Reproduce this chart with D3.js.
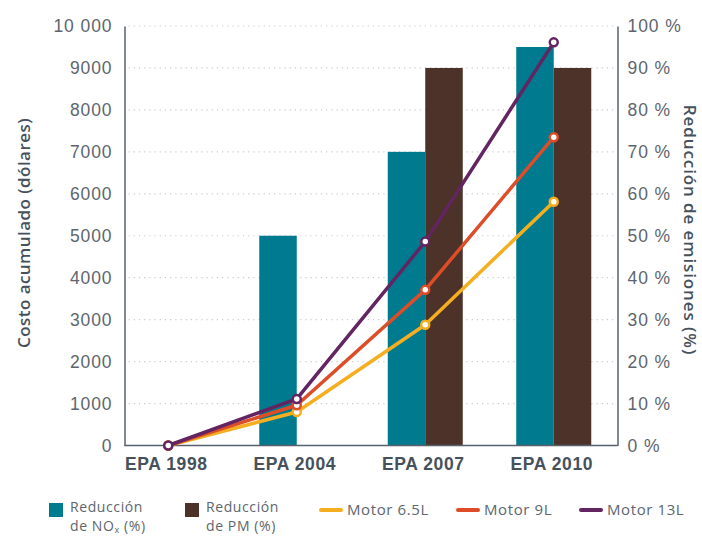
<!DOCTYPE html>
<html>
<head>
<meta charset="utf-8">
<script src="https://cdn.jsdelivr.net/npm/d3@7"></script>
<style>
  html, body { margin: 0; padding: 0; background: #fff; }
  svg { display: block; font-family: "Open Sans", sans-serif; }
</style>
</head>
<body>
<svg id="chart" width="702" height="536"></svg>
<script>
const categories = ["EPA 1998", "EPA 2004", "EPA 2007", "EPA 2010"];
const noxReduction = [null, 50, 70, 95];   // % (right axis)
const pmReduction  = [null, null, 90, 90]; // % (right axis)
const motor65 = [0, 800, 2880, 5810];      // dólares (left axis)
const motor9  = [0, 960, 3710, 7350];
const motor13 = [0, 1110, 4860, 9610];
const leftTicks  = [0,1000,2000,3000,4000,5000,6000,7000,8000,9000,10000];
const leftTickLabels = ["0","1000","2000","3000","4000","5000","6000","7000","8000","9000","10 000"];
const rightTicks = [0,10,20,30,40,50,60,70,80,90,100];
const rightTickLabels = rightTicks.map(d => d + " %");

const colors = { nox: "#007a8f", pm: "#4d3229", m65: "#f4ae1f", m9: "#dd4d27", m13: "#632561" };

const svg = d3.select("#chart");
const plot = { left: 124.5, right: 617.5, top: 26, bottom: 445.5 };

const x = d3.scaleBand().domain(categories).range([104, 618]).paddingInner(0).paddingOuter(0);
const yL = d3.scaleLinear().domain([0, 10000]).range([plot.bottom, plot.top]);
const yR = d3.scaleLinear().domain([0, 100]).range([plot.bottom, plot.top]);
const cx = c => x(c) + x.bandwidth() / 2;
const barW = 37.5;

// gridlines
svg.append("g").selectAll("line").data(leftTicks.slice(1)).join("line")
  .attr("x1", plot.left + 4).attr("x2", plot.right - 4)
  .attr("y1", d => yL(d)).attr("y2", d => yL(d))
  .attr("stroke", "#c8cbcd").attr("stroke-width", 1.2).attr("stroke-dasharray", "1.2,4");

// bars
const bars = svg.append("g");
bars.selectAll("rect.nox").data(categories.map((c, i) => ({c, v: noxReduction[i]})).filter(d => d.v != null))
  .join("rect").attr("class", "nox")
  .attr("x", d => cx(d.c) - barW).attr("width", barW)
  .attr("y", d => yR(d.v)).attr("height", d => yR(0) - yR(d.v))
  .attr("fill", colors.nox);
bars.selectAll("rect.pm").data(categories.map((c, i) => ({c, v: pmReduction[i]})).filter(d => d.v != null))
  .join("rect").attr("class", "pm")
  .attr("x", d => cx(d.c)).attr("width", barW)
  .attr("y", d => yR(d.v)).attr("height", d => yR(0) - yR(d.v))
  .attr("fill", colors.pm);

// axes
const axisColor = "#56616b";
const leftAxis = d3.axisLeft(yL).tickValues(leftTicks).tickSize(0).tickPadding(13)
  .tickFormat((d, i) => leftTickLabels[i]);
const gL = svg.append("g").attr("transform", `translate(${plot.left},0)`).call(leftAxis);
const rightAxis = d3.axisRight(yR).tickValues(rightTicks).tickSize(0).tickPadding(10)
  .tickFormat((d, i) => rightTickLabels[i]);
const gR = svg.append("g").attr("transform", `translate(${plot.right},0)`).call(rightAxis);
const bottomAxis = d3.axisBottom(x).tickSize(0).tickPadding(12);
const gB = svg.append("g").attr("transform", `translate(0,${plot.bottom})`).call(bottomAxis);
gB.select(".domain").remove();
svg.append("line").attr("x1", plot.left).attr("x2", plot.right)
  .attr("y1", plot.bottom).attr("y2", plot.bottom).attr("stroke", axisColor).attr("stroke-width", 1.5);

[gL, gR].forEach(g => {
  g.select(".domain").attr("stroke", axisColor).attr("stroke-width", 1.5);
  g.selectAll("text").attr("font-size", 17.5).attr("fill", "#5d666e").attr("font-weight", 300)
    .attr("letter-spacing", 0.9);
});
gL.selectAll("text").attr("dx", 0.9);
gB.selectAll("text").attr("font-size", 17.5).attr("font-weight", 600).attr("fill", "#46515b")
  .attr("letter-spacing", 0.6).attr("dx", -2);

// axis titles
svg.append("text").attr("transform", "translate(30,233) rotate(-90)")
  .attr("text-anchor", "middle").attr("font-size", 17).attr("font-weight", 600).attr("fill", "#46515b")
  .attr("letter-spacing", 0.45)
  .text("Costo acumulado (dólares)");
svg.append("text").attr("transform", "translate(684,230) rotate(90)")
  .attr("text-anchor", "middle").attr("font-size", 17).attr("font-weight", 600).attr("fill", "#46515b")
  .attr("letter-spacing", 0.9)
  .text("Reducción de emisiones (%)");

// lines
const series = [
  { key: "m65", name: "Motor 6.5L", values: motor65 },
  { key: "m9",  name: "Motor 9L",   values: motor9 },
  { key: "m13", name: "Motor 13L",  values: motor13 }
];
const line = d3.line().x((d, i) => cx(categories[i])).y(d => yL(d));
series.forEach(s => {
  svg.append("path").datum(s.values).attr("d", line)
    .attr("fill", "none").attr("stroke", colors[s.key]).attr("stroke-width", 3.5)
    .attr("stroke-linejoin", "round");
  svg.append("g").selectAll("circle").data(s.values).join("circle")
    .attr("cx", (d, i) => cx(categories[i])).attr("cy", d => yL(d)).attr("r", 4)
    .attr("fill", "#fff").attr("stroke", colors[s.key]).attr("stroke-width", 2.5);
});

// legend
const lg = svg.append("g").attr("font-size", 14).attr("fill", "#5d666e").attr("letter-spacing", 0.6);
function boxItem(xp, color, l1) {
  lg.append("rect").attr("x", xp).attr("y", 503).attr("width", 14).attr("height", 14).attr("fill", color);
  lg.append("text").attr("x", xp + 21).attr("y", 512).text(l1);
  return lg.append("text").attr("x", xp + 21).attr("y", 531);
}
const t1 = boxItem(49, colors.nox, "Reducción");
t1.append("tspan").text("de NO");
t1.append("tspan").attr("font-size", 9).attr("dy", 1.5).text("x");
t1.append("tspan").attr("dy", -1.5).text(" (%)");
const t2 = boxItem(185, colors.pm, "Reducción");
t2.text("de PM (%)");
[[321, "m65", "Motor 6.5L"], [458, "m9", "Motor 9L"], [581, "m13", "Motor 13L"]].forEach(([xp, k, name]) => {
  lg.append("line").attr("x1", xp).attr("x2", xp + 20).attr("y1", 510).attr("y2", 510)
    .attr("stroke", colors[k]).attr("stroke-width", 4).attr("stroke-linecap", "round");
  lg.append("text").attr("x", xp + 26).attr("y", 515).attr("font-size", 15).text(name);
});
</script>
</body>
</html>
